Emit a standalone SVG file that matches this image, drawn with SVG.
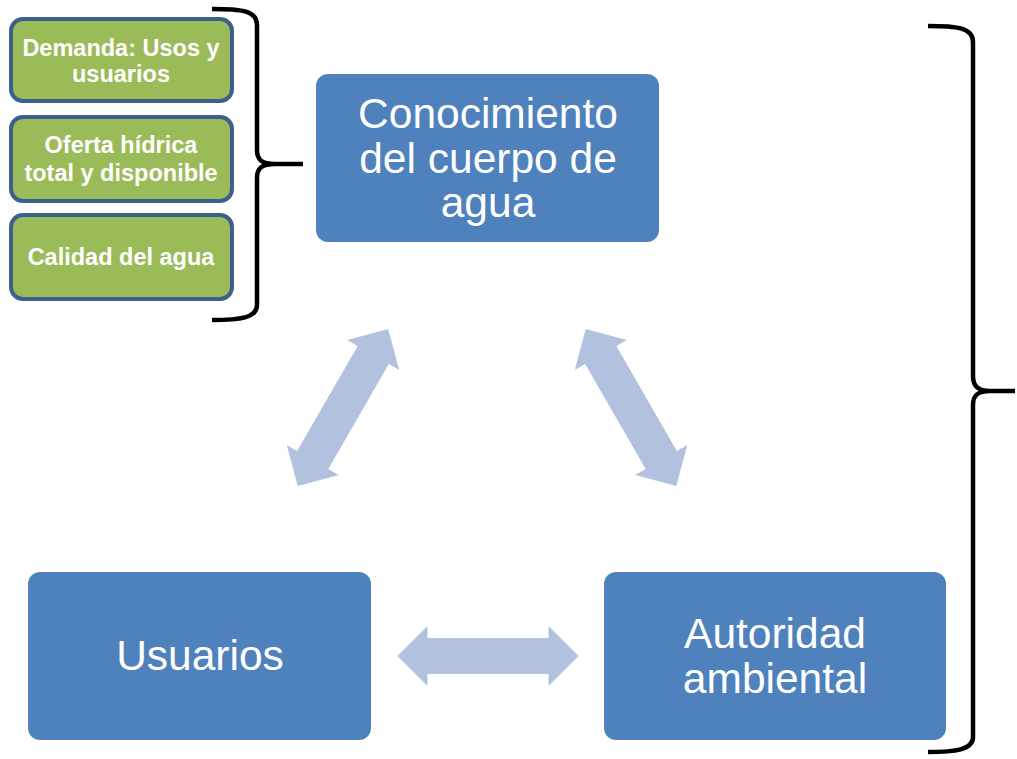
<svg xmlns="http://www.w3.org/2000/svg" width="1017" height="759" viewBox="0 0 1017 759">
<style>
.big{fill:#4F81BD;}
.green{fill:#9BBB59;stroke:#3C5F8C;stroke-width:4;}
.bt{font-family:"Liberation Sans",Arial,sans-serif;font-size:42.5px;fill:#FFFFFF;text-anchor:middle;}
.gt{font-family:"Liberation Sans",Arial,sans-serif;font-size:23.5px;font-weight:bold;fill:#FFFFFF;text-anchor:middle;}
.arr{fill:#B2C2DE;}
.brace{fill:none;stroke:#000000;stroke-width:4.5;stroke-linecap:butt;stroke-linejoin:round;}
</style>
<defs>
<polygon id="dbl" points="-90.5,0 -60.5,-30 -60.5,-18 60.5,-18 60.5,-30 90.5,0 60.5,30 60.5,18 -60.5,18 -60.5,30"/>
</defs>
<rect width="1017" height="759" fill="#FFFFFF"/>
<g id="connectors">
<use href="#dbl" class="arr" transform="translate(343,407.5) rotate(-60)"/>
<use href="#dbl" class="arr" transform="translate(631,407.5) rotate(60)"/>
<use href="#dbl" class="arr" transform="translate(488,656)"/>
<path class="brace" d="M212,9 C240,9 257,10 257,25 L257,150 C257,160 262,164 275,164 L303,164 M275,164 C262,164 257,168 257,178 L257,305 C257,318 240,320 212,320"/>
<path class="brace" d="M928,26 C955,26 973,27 973,42 L973,376 C973,386 978,391 990,391 L1015,391 M990,391 C978,391 973,395 973,405 L973,737 C973,750 955,752 928,752"/>
</g>
<g id="node-conocimiento">
<rect class="big" x="316" y="74" width="343" height="168" rx="12"/>
<text class="bt" x="488" y="128">Conocimiento</text>
<text class="bt" x="488" y="173">del cuerpo de</text>
<text class="bt" x="488" y="217">agua</text>
</g>
<g id="node-usuarios">
<rect class="big" x="28" y="572" width="343" height="168" rx="12"/>
<text class="bt" x="200" y="670">Usuarios</text>
</g>
<g id="node-autoridad">
<rect class="big" x="604" y="572" width="342" height="168" rx="12"/>
<text class="bt" x="775" y="648">Autoridad</text>
<text class="bt" x="775" y="693">ambiental</text>
</g>
<g id="node-demanda">
<rect class="green" x="11" y="19" width="221" height="82" rx="12"/>
<text class="gt" x="121" y="56">Demanda: Usos y</text>
<text class="gt" x="121" y="82">usuarios</text>
</g>
<g id="node-oferta">
<rect class="green" x="11" y="117" width="221" height="84" rx="12"/>
<text class="gt" x="121" y="153">Oferta hídrica</text>
<text class="gt" x="121" y="181">total y disponible</text>
</g>
<g id="node-calidad">
<rect class="green" x="11" y="215" width="221" height="84" rx="12"/>
<text class="gt" x="121" y="265">Calidad del agua</text>
</g>
</svg>
